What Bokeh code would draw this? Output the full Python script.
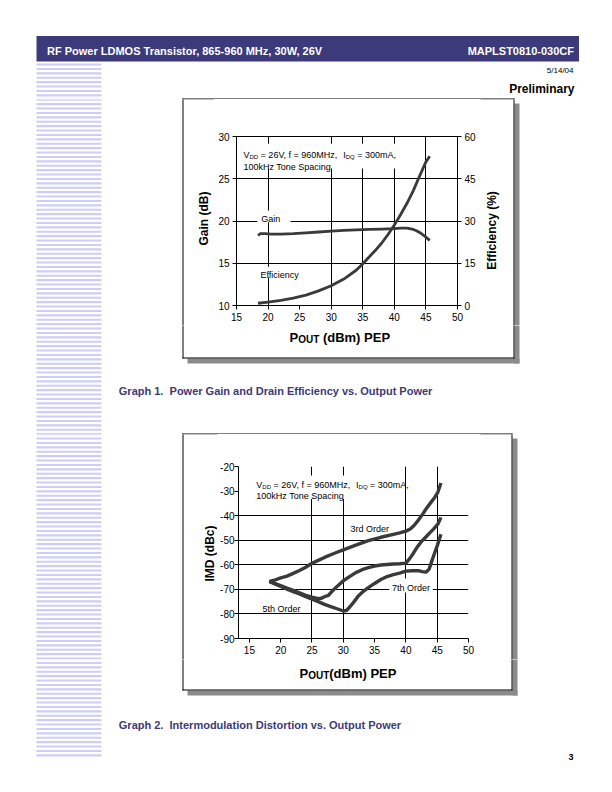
import math
from bokeh.plotting import figure
from bokeh.layouts import column, row
from bokeh.models import Range1d, LinearAxis, FixedTicker
from bokeh.core.properties import value
from bokeh.embed import file_html
from bokeh.resources import INLINE

# ---------------- page texts ----------------
header_title = "RF Power LDMOS Transistor, 865-960 MHz, 30W, 26V"
part_number = "MAPLST0810-030CF"
page_date = "5/14/04"
page_status = "Preliminary"
page_number = "3"
caption1 = ["Graph 1.", "Power Gain and Drain Efficiency vs. Output Power"]
caption2 = ["Graph 2.", "Intermodulation Distortion vs. Output Power"]

# ---------------- Graph 1 data ----------------
g1_pout_gain = [18.4, 18.8, 19.5, 20.5, 22, 24, 26, 28, 30, 32, 34, 36, 38, 40,
                41, 42, 42.8, 43.5, 44.2, 44.9, 45.6]
g1_gain = [18.3, 18.5, 18.5, 18.45, 18.45, 18.5, 18.6, 18.7, 18.8, 18.9, 18.95,
           19.0, 19.05, 19.1, 19.15, 19.15, 19.05, 18.85, 18.55, 18.15, 17.7]
g1_pout_eff = [18.4, 20, 22, 24, 26, 28, 30, 32, 34, 35, 36, 37, 38, 39, 40,
               41, 42, 43, 44, 45, 45.6]
g1_eff = [0.8, 1.2, 1.8, 2.6, 3.7, 5.2, 7.0, 9.4, 12.6, 14.8, 17.2, 19.6, 22.2,
          25.2, 28.6, 32.3, 36.3, 40.8, 46.0, 51.0, 53.0]
g1_x_ticks = [15, 20, 25, 30, 35, 40, 45, 50]
g1_gain_ticks = [10, 15, 20, 25, 30]
g1_eff_ticks = [0, 15, 30, 45, 60]
g1_xlabel = ["P", "OUT", "(dBm) PEP"]
g1_ylabel = "Gain (dB)"
g1_y2label = "Efficiency (%)"
g1_note = ["V", "DD", "= 26V, f = 960MHz,", "I", "DQ", "= 300mA,"]
g1_note2 = "100kHz Tone Spacing"
g1_series_labels = ["Gain", "Efficiency"]

# ---------------- Graph 2 data ----------------
g2_pout_3rd = [18.2, 19, 20, 21, 22, 23, 24, 25, 26, 27, 28, 29, 30, 32, 34, 36,
               38, 39, 40, 40.7, 41.3, 42, 42.7, 43.3, 44, 44.6, 45.1, 45.6]
g2_imd_3rd = [-66.8, -66.3, -65.3, -64.6, -63.5, -62.3, -61.0, -59.4, -58.2,
              -57.0, -55.9, -54.9, -53.9, -52.0, -50.2, -48.8, -47.6, -47.0,
              -46.3, -45.4, -44.0, -41.8, -39.3, -37.0, -34.6, -32.6, -30.5, -26.7]
g2_pout_5th = [18.2, 19, 20, 21, 22, 23, 24, 25, 26, 26.5, 27, 27.6, 28.2, 29,
               30, 31, 32, 33, 34, 35, 36, 37, 38, 39, 40, 40.6, 41.2, 41.8,
               42.4, 43, 43.7, 44.4, 45.1, 45.6]
g2_imd_5th = [-66.8, -67.6, -68.5, -69.5, -70.4, -71.4, -72.4, -73.2, -73.8,
              -73.6, -73.0, -72.5, -70.8, -68.8, -66.5, -64.8, -63.2, -62.0,
              -61.2, -60.5, -60.1, -59.9, -59.7, -59.6, -59.3, -57.5, -55.3,
              -52.8, -50.8, -49.2, -47.3, -45.5, -43.5, -40.7]
g2_pout_7th = [18.2, 19, 20, 21, 22, 23, 24, 25, 26, 27, 28, 29, 30, 30.5, 31,
               31.7, 32.4, 33.2, 34, 35, 36, 37, 38, 39, 40, 41, 42, 42.6, 43.2,
               43.7, 44.1, 44.5, 45, 45.6]
g2_imd_7th = [-66.8, -67.7, -68.8, -69.9, -70.9, -71.9, -73.0, -74.0, -75.0,
              -76.1, -77.0, -77.9, -78.8, -78.6, -77.3, -75.1, -72.7, -70.8,
              -69.3, -67.6, -66.0, -64.8, -64.0, -63.4, -62.6, -62.4, -62.4,
              -62.8, -63.0, -61.8, -58.8, -55.8, -52.3, -47.6]
g2_x_ticks = [15, 20, 25, 30, 35, 40, 45, 50]
g2_y_ticks = [-90, -80, -70, -60, -50, -40, -30, -20]
g2_xlabel = ["P", "OUT", "(dBm) PEP"]
g2_ylabel = "IMD (dBc)"
g2_note = ["V", "DD", "= 26V, f = 960MHz,", "I", "DQ", "= 300mA,"]
g2_note2 = "100kHz Tone Spacing"
g2_series_labels = ["3rd Order", "5th Order", "7th Order"]

# ---------------- style ----------------
FONT = "Liberation Sans"
NAVY = "#3c3a7a"
STRIPE = "#cdcdf7"
SHADOW = "#8b8b8b"
CURVE = "#3a3a3a"

AR = {' ': 278, ',': 278, '-': 333, '.': 278, '/': 278, '=': 584, '(': 333, ')': 333,
      '%': 889, 'A': 667, 'B': 667, 'C': 722, 'D': 722, 'E': 667, 'F': 611, 'G': 778,
      'H': 722, 'I': 278, 'L': 556, 'M': 833, 'O': 778, 'P': 667, 'Q': 778, 'R': 722,
      'S': 667, 'T': 611, 'U': 722, 'V': 667, 'W': 944, 'a': 556, 'b': 556, 'c': 500,
      'd': 556, 'e': 556, 'f': 278, 'g': 556, 'h': 556, 'i': 222, 'k': 500, 'l': 222,
      'm': 833, 'n': 556, 'o': 556, 'p': 556, 'r': 333, 's': 500, 't': 278, 'u': 556,
      'v': 500, 'w': 722, 'y': 500, 'z': 500}
AB = {' ': 278, ',': 278, '-': 333, '.': 278, '/': 278, '=': 584, '(': 333, ')': 333,
      '%': 889, 'A': 722, 'B': 722, 'C': 722, 'D': 722, 'E': 667, 'F': 611, 'G': 778,
      'H': 722, 'I': 278, 'L': 611, 'M': 833, 'O': 778, 'P': 667, 'Q': 778, 'R': 722,
      'S': 667, 'T': 611, 'U': 722, 'V': 667, 'W': 944, 'a': 556, 'b': 611, 'c': 556,
      'd': 611, 'e': 556, 'f': 333, 'g': 611, 'h': 611, 'i': 278, 'k': 556, 'l': 278,
      'm': 889, 'n': 611, 'o': 611, 'p': 611, 'r': 389, 's': 556, 't': 333, 'u': 611,
      'v': 556, 'w': 778, 'y': 556, 'z': 500}


def tw(s, size, bold=False):
    t = AB if bold else AR
    return sum(t.get(c, 556) for c in s) * size / 1000.0


def no_align(p):
    try:
        p.frame_align = False
    except Exception:
        pass


# ---------------- page decoration (page pixel coordinates) ----------------
RECTS = [(36, 578.5, 35.5, 61, NAVY)]
for i in range(158):
    y = 63 + i * 4.4
    RECTS.append((36, 101, y, y + 2.1, STRIPE))


def add_box(l, t, r, b):
    RECTS.extend([
        (r, r + 5, t + 5, b + 5, SHADOW),
        (l + 5, r + 5, b, b + 5, SHADOW),
        (l, r, t, t + 1, "black"),
        (l, r, b - 1, b, "black"),
        (l, l + 1, t, b, "black"),
        (r - 1, r, t, b, "black"),
    ])


add_box(182, 98, 514, 358)
add_box(182, 433, 512, 690)


def deco(x0, x1, y0, y1):
    p = figure(width=x1 - x0, height=y1 - y0, x_range=Range1d(x0, x1),
               y_range=Range1d(y1, y0), toolbar_location=None,
               output_backend="svg", min_border=0,
               x_axis_location=None, y_axis_location=None)
    no_align(p)
    p.outline_line_color = None
    p.grid.visible = False
    p.quad(left=[r[0] for r in RECTS], right=[r[1] for r in RECTS],
           top=[r[2] for r in RECTS], bottom=[r[3] for r in RECTS],
           fill_color=[r[4] for r in RECTS], line_color=None)
    return p


def dtext(p, x, y, text, size, bold=False, color="black", align="left", xoff=0,
          angle=0, baseline="alphabetic"):
    p.text(x=[x], y=[y], text=[text], x_offset=xoff, angle=angle, text_font=value(FONT),
           text_font_size=f"{size}px", text_font_style="bold" if bold else "normal",
           text_color=color, text_align=align, text_baseline=baseline)


def vlabel(p, x, y, text):
    dtext(p, x, y, text, 12, bold=True, align="center", angle=math.pi / 2,
          baseline="middle")


def xlabel(p, x, y, parts, space):
    # P with subscript OUT, then the rest (page coordinates, y grows downward)
    dtext(p, x, y, parts[0], 13, bold=True)
    o = tw(parts[0], 13, True)
    dtext(p, x, y + 2, parts[1], 10, bold=True, xoff=o)
    o += tw(parts[1], 10, True) + (tw(" ", 13, True) if space else 0)
    dtext(p, x, y, parts[2], 13, bold=True, xoff=o)


def style_axis(ax, ticks, standoff):
    ax.ticker = FixedTicker(ticks=ticks)
    ax.axis_line_color = "black"
    ax.major_tick_line_color = "black"
    ax.major_tick_in = 0
    ax.major_tick_out = 4
    ax.minor_tick_line_color = None
    ax.major_label_standoff = standoff
    ax.major_label_text_font = FONT
    ax.major_label_text_font_size = "10px"
    ax.major_label_text_color = "black"
    ax.major_label_overrides = {t: str(t) for t in ticks}


def note(p, x, y1, y2, parts, line2, sub_dy):
    pieces = [(parts[0], 9, False, 0), (parts[1], 6, True, 0),
              (parts[2], 9, False, tw(" ", 9)), (parts[3], 9, False, tw("  ", 9)),
              (parts[4], 6, True, 0), (parts[5], 9, False, tw(" ", 9))]
    off = 0.0
    for text, size, sub, gap in pieces:
        off += gap
        p.text(x=[x], y=[y1 - (sub_dy if sub else 0)], text=[text], x_offset=off,
               text_font=value(FONT), text_font_size=f"{size}px", text_color="black",
               text_align="left", text_baseline="alphabetic")
        off += tw(text, size)
    p.text(x=[x], y=[y2], text=[line2], text_font=value(FONT), text_font_size="9px",
           text_color="black", text_align="left", text_baseline="alphabetic")


def ctext(p, x, y, text, align="left"):
    p.text(x=[x], y=[y], text=[text], text_font=value(FONT), text_font_size="9px",
           text_color="black", text_align=align, text_baseline="alphabetic")


# ---------------- Graph 1 (canvas x 214..480, y 99..325) ----------------
c1 = figure(width=266, height=226, x_range=Range1d(15, 50), y_range=Range1d(10, 30),
            toolbar_location=None, output_backend="svg",
            min_border_left=22, min_border_right=23, min_border_top=37,
            min_border_bottom=20)
no_align(c1)
c1.extra_y_ranges = {"eff": Range1d(0, 60)}
c1.outline_line_color = "black"
style_axis(c1.xaxis[0], g1_x_ticks, 3)
style_axis(c1.yaxis[0], g1_gain_ticks, 3)
eff_axis = LinearAxis(y_range_name="eff")
style_axis(eff_axis, g1_eff_ticks, 3)
c1.add_layout(eff_axis, "right")
c1.xgrid.ticker = FixedTicker(ticks=[20, 30, 35, 40, 45])
c1.ygrid.ticker = FixedTicker(ticks=[15, 20, 25])
c1.grid.grid_line_color = "black"
c1.grid.grid_line_width = 1

PY1 = 169 / 20.0
c1.quad(left=[16.0, 18.3, 18.3], right=[40.5, 23.55, 25.1],
        top=[29.15, 21.24, 14.6], bottom=[26.2, 19.86, 13.3],
        fill_color="white", line_color=None)
c1.line(g1_pout_gain, g1_gain, line_width=2.8, line_color=CURVE, line_join="round")
c1.line(g1_pout_eff, g1_eff, y_range_name="eff", line_width=2.8, line_color=CURVE,
        line_join="round")
note(c1, 16.1, 27.76, 26.39, g1_note, g1_note2, 1.5 / PY1)
ctext(c1, 18.9, 20.24, g1_series_labels[0])
ctext(c1, 18.8, 13.61, g1_series_labels[1])

# ---------------- Graph 2 (canvas x 217..480, y 434..659) ----------------
X2MIN = 13.26
c2 = figure(width=263, height=225, x_range=Range1d(X2MIN, 50),
            y_range=Range1d(-90, -20), toolbar_location=None, output_backend="svg",
            min_border_left=19, min_border_right=12, min_border_top=32,
            min_border_bottom=21)
no_align(c2)
c2.outline_line_color = None
style_axis(c2.xaxis[0], g2_x_ticks, 3)
style_axis(c2.yaxis[0], g2_y_ticks, 0)
c2.xgrid.ticker = FixedTicker(ticks=[25, 30, 40, 45, 50])
c2.ygrid.ticker = FixedTicker(ticks=[-40, -50, -60, -70, -80])
c2.grid.grid_line_color = "black"
c2.grid.grid_line_width = 1

PY2 = 172 / 70.0
c2.quad(left=[15.71, 31.0, 37.33, 16.59], right=[38.84, 37.4, 44.3, 23.71],
        top=[-23.66, -42.0, -65.58, -73.72], bottom=[-33.25, -46.5, -71.28, -79.42],
        fill_color="white", line_color=None)
c2.line(g2_pout_3rd, g2_imd_3rd, line_width=3.4, line_color=CURVE, line_join="round")
c2.line(g2_pout_5th, g2_imd_5th, line_width=3.4, line_color=CURVE, line_join="round")
c2.line(g2_pout_7th, g2_imd_7th, line_width=3.4, line_color=CURVE, line_join="round")
note(c2, 16.11, -27.61, -32.09, g2_note, g2_note2, 1.5 / PY2)
ctext(c2, 34.21, -45.32, g2_series_labels[0], "center")
ctext(c2, 20.12, -78.08, g2_series_labels[1], "center")
ctext(c2, 40.81, -69.45, g2_series_labels[2], "center")

# ---------------- page assembly ----------------
T = deco(0, 612, 0, 99)
dtext(T, 46.5, 50, header_title, 11, bold=True, color="white")
dtext(T, 573.5, 50, part_number, 11, bold=True, color="white", align="right")
dtext(T, 573, 70, page_date, 8, align="right")
dtext(T, 574, 88, page_status, 12, bold=True, align="right")

L1 = deco(0, 214, 99, 325)
vlabel(L1, 203.5, 218, g1_ylabel)
R1 = deco(480, 612, 99, 325)
vlabel(R1, 491.7, 230, g1_y2label)

M = deco(0, 612, 325, 434)
xlabel(M, 289, 336.7, g1_xlabel, True)
dtext(M, 118.3, 390.5, caption1[0], 11, bold=True, color=NAVY)
dtext(M, 118.3, 390.5, caption1[1], 11, bold=True, color=NAVY,
      xoff=tw(caption1[0] + "  ", 11, True))

L2 = deco(0, 217, 434, 659)
vlabel(L2, 209.5, 553, g2_ylabel)
R2 = deco(480, 612, 434, 659)

B = deco(0, 612, 659, 792)
xlabel(B, 299, 672.5, g2_xlabel, False)
dtext(B, 118.3, 724.5, caption2[0], 11, bold=True, color=NAVY)
dtext(B, 118.3, 724.5, caption2[1], 11, bold=True, color=NAVY,
      xoff=tw(caption2[0] + "  ", 11, True))
dtext(B, 573, 756, page_number, 9, bold=True, align="right")

layout = column(T, row(L1, c1, R1), M, row(L2, c2, R2), B)

with open("out.html", "w") as f:
    f.write(file_html(layout, INLINE))
